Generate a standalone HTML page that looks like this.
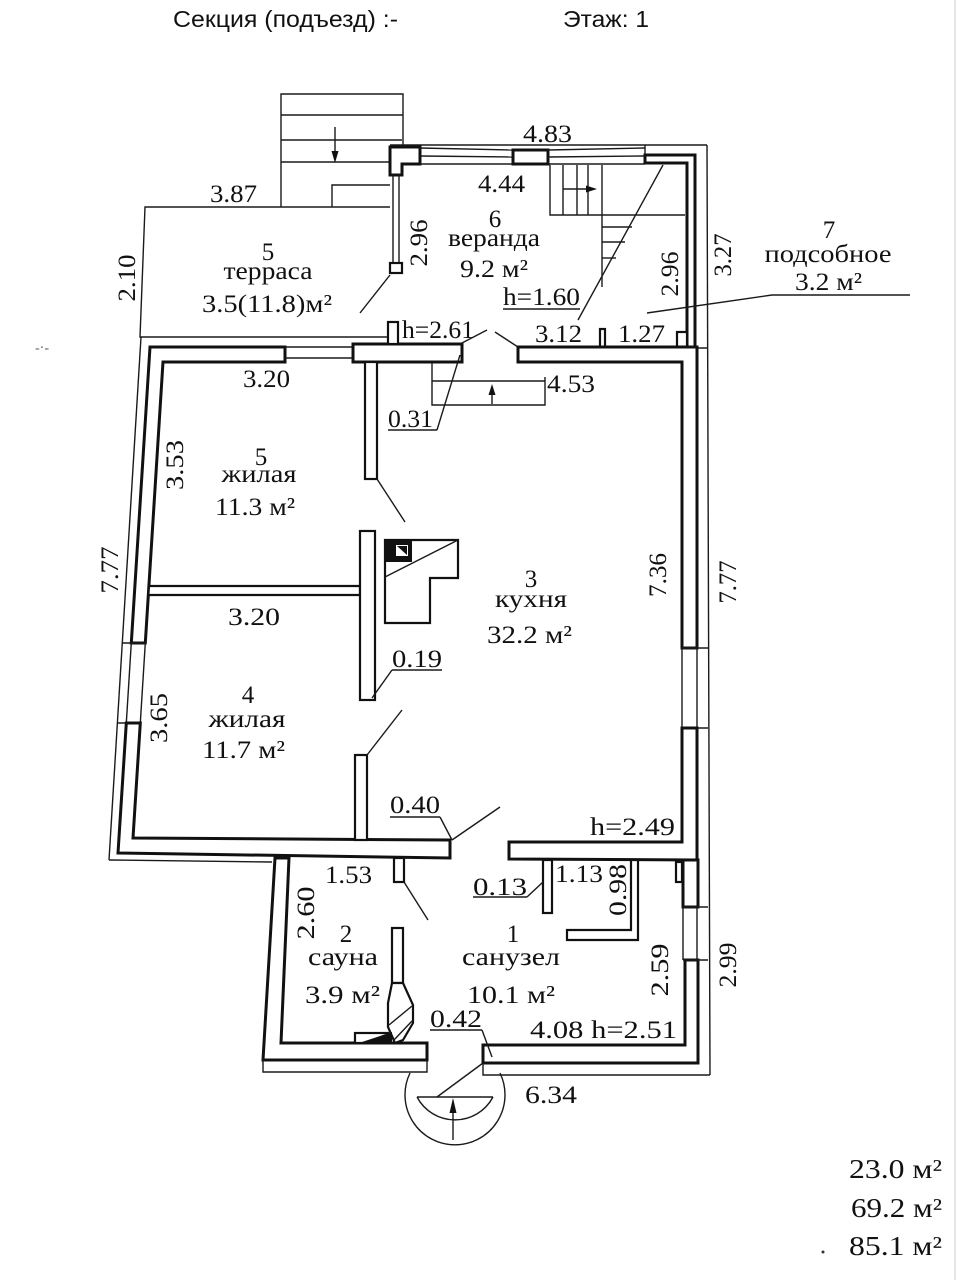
<!DOCTYPE html>
<html><head><meta charset="utf-8">
<style>
html,body{margin:0;padding:0;background:#fff;}
svg{display:block;}
.w{fill:#fff;stroke:#111;stroke-width:3;stroke-linejoin:miter}
.p{fill:#fff;stroke:#111;stroke-width:2.2}
.t{fill:none;stroke:#1a1a1a;stroke-width:1.4}
.k{fill:#111;stroke:none}
text{font-family:"Liberation Serif","DejaVu Serif",serif;font-size:25px;fill:#111}
.m{text-anchor:middle}
.h{font-family:"Liberation Sans","DejaVu Sans",sans-serif;font-size:23px}
.tot{font-size:27px}
</style></head>
<body>
<svg width="957" height="1280" viewBox="0 0 957 1280" xmlns="http://www.w3.org/2000/svg">
<rect x="0" y="0" width="957" height="1280" fill="#fff"/>
<line x1="955" y1="0" x2="955" y2="1280" stroke="#ddd" stroke-width="1.5"/>

<!-- header -->
<text class="h" x="173" y="27" textLength="225" lengthAdjust="spacingAndGlyphs">Секция (подъезд) :-</text>
<text class="h" x="563" y="27" textLength="86" lengthAdjust="spacingAndGlyphs">Этаж: 1</text>

<!-- outer stair top-left -->
<polyline class="t" points="281,207 281,94 403,94 403,145"/>
<line class="t" x1="281" y1="115" x2="403" y2="115"/>
<line class="t" x1="281" y1="140" x2="402" y2="140"/>
<line class="t" x1="281" y1="162" x2="390" y2="162"/>
<polyline class="t" points="390,185 332,185 332,207"/>
<line class="t" x1="335" y1="127" x2="335" y2="156"/>
<polygon class="k" points="331.5,151 338.5,151 335,163"/>

<!-- terrace -->
<polyline class="t" points="390,207 145,207 140,337 388,337"/>
<line class="t" x1="390" y1="275" x2="360" y2="313"/>

<!-- veranda left window + corner -->
<line class="t" x1="390" y1="145" x2="707" y2="145"/>
<polygon class="w" points="390,147 420,147 420,164 402,164 402,175 390,175"/>
<line class="t" x1="393" y1="175" x2="393" y2="263"/>
<line class="t" x1="399" y1="175" x2="399" y2="263"/>
<rect class="p" x="390" y="263" width="12" height="10"/>
<line class="t" x1="420" y1="148" x2="513" y2="150"/>
<line class="t" x1="420" y1="156" x2="513" y2="157"/>
<line class="t" x1="420" y1="164" x2="645" y2="164"/>
<rect class="w" x="513" y="150" width="35" height="14"/>
<line class="t" x1="548" y1="150" x2="645" y2="148"/>
<line class="t" x1="548" y1="157" x2="645" y2="156"/>
<line class="t" x1="645" y1="145" x2="645" y2="155"/>
<polygon class="w" points="645,155 695,155 695,347 687,347 687,163 645,163"/>
<line class="t" x1="707" y1="145" x2="710" y2="1075"/>

<!-- veranda stair -->
<polyline class="t" points="550,165 550,215 685,215"/>
<line class="t" x1="563" y1="165" x2="563" y2="215"/>
<line class="t" x1="577" y1="165" x2="577" y2="215"/>
<line class="t" x1="588" y1="165" x2="588" y2="215"/>
<line class="t" x1="602" y1="165" x2="602" y2="287"/>
<line class="t" x1="563" y1="189" x2="590" y2="189"/>
<polygon class="k" points="586,185.5 586,192.5 597,189"/>
<line class="t" x1="602" y1="227" x2="632" y2="227"/>
<line class="t" x1="602" y1="242" x2="625" y2="242"/>
<line class="t" x1="602" y1="258" x2="616" y2="258"/>
<line class="t" x1="663" y1="165" x2="578" y2="320"/>
<line class="t" x1="503" y1="309" x2="580" y2="309"/>
<rect class="p" x="600" y="329" width="5" height="18"/>
<rect class="p" x="677" y="332" width="10" height="15"/>
<line class="t" x1="518" y1="348" x2="707" y2="348"/>

<!-- subsidiary leader -->
<polyline class="t" points="647,313 772,295 910,295"/>

<!-- main block: top-left wall -->
<polygon class="w" points="285,347 150,347 131.3,643 145.3,643 163,362 285,362"/>
<line class="t" x1="285" y1="347" x2="353" y2="347"/>
<line class="t" x1="285" y1="358" x2="353" y2="358"/>
<rect class="w" x="353" y="344" width="109" height="18"/>
<rect class="p" x="388" y="322" width="10" height="22"/>
<!-- door leaves top -->
<line class="t" x1="462" y1="343" x2="487" y2="330"/>
<line class="t" x1="495" y1="332" x2="518" y2="347"/>
<!-- top-right wall + right wall upper -->
<polygon class="w" points="518,347 697,347 697,648 682,648 682,362 518,362"/>
<!-- right window -->
<line class="t" x1="682" y1="648" x2="682" y2="728"/>
<line class="t" x1="697" y1="648" x2="697" y2="728"/>
<line class="t" x1="682" y1="648" x2="708" y2="648"/>
<line class="t" x1="682" y1="728" x2="708" y2="728"/>
<!-- kitchen bottom right wall -->
<polygon class="w" points="509,842 682,842 682,728 697,728 697,860 509,859"/>

<!-- left window -->
<line class="t" x1="141" y1="337" x2="109" y2="860"/>
<line class="t" x1="131.3" y1="643" x2="126.3" y2="723"/>
<line class="t" x1="145.3" y1="643" x2="140.3" y2="723"/>
<line class="t" x1="122" y1="643" x2="145" y2="643"/>
<line class="t" x1="117" y1="723" x2="140" y2="723"/>
<!-- left lower wall + bottom left -->
<polygon class="w" points="126.3,723 140.3,723 133,838 450,840 450,858 118,853"/>
<line class="t" x1="109" y1="860" x2="272" y2="862"/>

<!-- partition rooms 5/4 -->
<polygon class="p" points="149,586 360,586 360,595 148.3,595"/>
<!-- vertical partitions -->
<rect class="p" x="365" y="362" width="12" height="117"/>
<rect class="p" x="360" y="531" width="15" height="169"/>
<rect class="p" x="355" y="755" width="12" height="85"/>
<line class="t" x1="377" y1="479" x2="405" y2="522"/>
<line class="t" x1="367" y1="755" x2="402" y2="710"/>
<line class="t" x1="452" y1="840" x2="500" y2="807"/>

<!-- kitchen stair -->
<polyline class="t" points="432,362 432,405 545,405 545,377"/>
<line class="t" x1="432" y1="381" x2="545" y2="381"/>
<line class="t" x1="492" y1="404" x2="492" y2="392"/>
<polygon class="k" points="488.5,395 495.5,395 492,384"/>

<!-- stove -->
<polygon class="p" points="385,540 458,540 458,578 430,578 430,623 385,623"/>
<line class="t" x1="458" y1="540" x2="385" y2="577"/>
<rect class="k" x="385" y="540" width="27" height="22"/>
<rect x="396" y="545" width="12" height="11" fill="#fff"/>
<polygon class="k" points="397,546 407,546 407,555"/>

<!-- leaders -->
<line class="t" x1="388" y1="430" x2="437" y2="430"/>
<line class="t" x1="437" y1="430" x2="460" y2="355"/>
<line class="t" x1="392" y1="670" x2="442" y2="670"/>
<line class="t" x1="392" y1="670" x2="372" y2="698"/>
<line class="t" x1="390" y1="817" x2="440" y2="817"/>
<line class="t" x1="440" y1="817" x2="452" y2="840"/>

<!-- sauna / bath -->
<polygon class="w" points="275,858 289,858 281,1043 427,1043 427,1060 263,1060"/>
<polyline class="t" points="263,1060 263,1072 427,1072 427,1060"/>
<polygon class="w" points="483,1045 685,1045 685,960 698,960 698,1063 483,1063"/>
<polyline class="t" points="483,1063 483,1075 710,1075"/>
<rect class="w" x="683" y="860" width="15" height="47"/>
<line class="t" x1="683" y1="907" x2="683" y2="960"/>
<line class="t" x1="697" y1="907" x2="697" y2="960"/>
<line class="t" x1="683" y1="907" x2="708" y2="907"/>
<line class="t" x1="683" y1="960" x2="708" y2="960"/>
<rect class="p" x="676" y="862" width="6" height="20"/>
<rect class="p" x="394" y="858" width="10" height="24"/>
<line class="t" x1="404" y1="882" x2="428" y2="920"/>
<rect class="p" x="392" y="928" width="11" height="55"/>
<polygon class="p" points="392,983 403,983 413,1005 413,1023 403,1040 395,1043 388,1027 388,1003"/>
<line class="t" x1="389" y1="1025" x2="412" y2="1006"/>
<line class="t" x1="393" y1="1041" x2="412" y2="1021"/>
<rect class="p" x="355" y="1033" width="33" height="10"/>
<polygon class="k" points="362,1042 392,1032 392,1042"/>
<rect class="p" x="543" y="860" width="9" height="53"/>
<polygon class="p" points="631,860 638,860 638,940 567,940 567,930 631,930"/>
<line class="t" x1="473" y1="897" x2="527" y2="897"/>
<line class="t" x1="527" y1="897" x2="543" y2="882"/>
<line class="t" x1="430" y1="1030" x2="482" y2="1030"/>
<line class="t" x1="482" y1="1030" x2="492" y2="1057"/>

<!-- porch -->
<path class="t" d="M410,1073 A50,50 0 1 0 500,1073"/>
<path class="t" d="M417,1097 A43,43 0 0 0 493,1097"/>
<line class="t" x1="417" y1="1097" x2="493" y2="1097"/>
<line class="t" x1="437" y1="1097" x2="483" y2="1063"/>
<line class="t" x1="453" y1="1140" x2="453" y2="1108"/>
<polygon class="k" points="449.5,1113 456.5,1113 453,1098"/>

<!-- small marks -->
<text x="35" y="352" style="font-size:14px;fill:#555">-·-</text>
<circle cx="823" cy="1252" r="1.5" fill="#333"/>

<!-- labels: terrace -->
<text x="210" y="202" textLength="47" lengthAdjust="spacingAndGlyphs">3.87</text>
<text transform="translate(135,278) rotate(-90)" class="m" textLength="47" lengthAdjust="spacingAndGlyphs">2.10</text>
<text x="268" y="260" class="m">5</text>
<text x="268" y="279" class="m" textLength="89" lengthAdjust="spacingAndGlyphs">терраса</text>
<text x="202" y="312" textLength="130" lengthAdjust="spacingAndGlyphs">3.5(11.8)м²</text>

<!-- veranda -->
<text x="523" y="142" textLength="49" lengthAdjust="spacingAndGlyphs">4.83</text>
<text x="478" y="192" textLength="47" lengthAdjust="spacingAndGlyphs">4.44</text>
<text transform="translate(427,243) rotate(-90)" class="m" textLength="47" lengthAdjust="spacingAndGlyphs">2.96</text>
<text x="495" y="227" class="m">6</text>
<text x="494" y="246" class="m" textLength="92" lengthAdjust="spacingAndGlyphs">веранда</text>
<text x="460" y="277" textLength="68" lengthAdjust="spacingAndGlyphs">9.2 м²</text>
<text x="503" y="305" textLength="77" lengthAdjust="spacingAndGlyphs">h=1.60</text>
<text transform="translate(678,274) rotate(-90)" class="m" textLength="45" lengthAdjust="spacingAndGlyphs">2.96</text>
<text transform="translate(731,255) rotate(-90)" class="m" textLength="43" lengthAdjust="spacingAndGlyphs">3.27</text>
<text x="402" y="338" textLength="72" lengthAdjust="spacingAndGlyphs">h=2.61</text>
<text x="535" y="342" textLength="47" lengthAdjust="spacingAndGlyphs">3.12</text>
<text x="618" y="342" textLength="47" lengthAdjust="spacingAndGlyphs">1.27</text>
<text x="829" y="238" class="m">7</text>
<text x="828" y="262" class="m" textLength="127" lengthAdjust="spacingAndGlyphs">подсобное</text>
<text x="795" y="290" textLength="67" lengthAdjust="spacingAndGlyphs">3.2 м²</text>

<!-- rooms 5 & 4 -->
<text x="243" y="387" textLength="47" lengthAdjust="spacingAndGlyphs">3.20</text>
<text x="388" y="427" textLength="45" lengthAdjust="spacingAndGlyphs">0.31</text>
<text x="547" y="392" textLength="48" lengthAdjust="spacingAndGlyphs">4.53</text>
<text transform="translate(183,465) rotate(-90)" class="m" textLength="50" lengthAdjust="spacingAndGlyphs">3.53</text>
<text x="261" y="465" class="m">5</text>
<text x="259" y="482" class="m" textLength="75" lengthAdjust="spacingAndGlyphs">жилая</text>
<text x="215" y="515" textLength="80" lengthAdjust="spacingAndGlyphs">11.3 м²</text>
<text transform="translate(118,570) rotate(-90)" class="m" textLength="47" lengthAdjust="spacingAndGlyphs">7.77</text>
<text x="228" y="625" textLength="52" lengthAdjust="spacingAndGlyphs">3.20</text>
<text transform="translate(167,718) rotate(-90)" class="m" textLength="50" lengthAdjust="spacingAndGlyphs">3.65</text>
<text x="248" y="703" class="m">4</text>
<text x="247" y="727" class="m" textLength="77" lengthAdjust="spacingAndGlyphs">жилая</text>
<text x="202" y="758" textLength="83" lengthAdjust="spacingAndGlyphs">11.7 м²</text>

<!-- kitchen -->
<text x="531" y="587" class="m">3</text>
<text x="531" y="607" class="m" textLength="72" lengthAdjust="spacingAndGlyphs">кухня</text>
<text x="487" y="643" textLength="85" lengthAdjust="spacingAndGlyphs">32.2 м²</text>
<text transform="translate(666,575) rotate(-90)" class="m" textLength="44" lengthAdjust="spacingAndGlyphs">7.36</text>
<text transform="translate(736,582) rotate(-90)" class="m" textLength="43" lengthAdjust="spacingAndGlyphs">7.77</text>
<text x="392" y="667" textLength="50" lengthAdjust="spacingAndGlyphs">0.19</text>
<text x="390" y="813" textLength="50" lengthAdjust="spacingAndGlyphs">0.40</text>
<text x="590" y="835" textLength="85" lengthAdjust="spacingAndGlyphs">h=2.49</text>

<!-- bath / sauna -->
<text x="325" y="883" textLength="47" lengthAdjust="spacingAndGlyphs">1.53</text>
<text x="473" y="895" textLength="54" lengthAdjust="spacingAndGlyphs">0.13</text>
<text x="555" y="882" textLength="48" lengthAdjust="spacingAndGlyphs">1.13</text>
<text transform="translate(626,890) rotate(-90)" class="m" textLength="52" lengthAdjust="spacingAndGlyphs">0.98</text>
<text transform="translate(314,913) rotate(-90)" class="m" textLength="53" lengthAdjust="spacingAndGlyphs">2.60</text>
<text x="346" y="942" class="m">2</text>
<text x="343" y="965" class="m" textLength="70" lengthAdjust="spacingAndGlyphs">сауна</text>
<text x="305" y="1003" textLength="75" lengthAdjust="spacingAndGlyphs">3.9 м²</text>
<text x="513" y="942" class="m">1</text>
<text x="511" y="965" class="m" textLength="98" lengthAdjust="spacingAndGlyphs">санузел</text>
<text x="467" y="1003" textLength="88" lengthAdjust="spacingAndGlyphs">10.1 м²</text>
<text transform="translate(668,970) rotate(-90)" class="m" textLength="53" lengthAdjust="spacingAndGlyphs">2.59</text>
<text transform="translate(736,965) rotate(-90)" class="m" textLength="45" lengthAdjust="spacingAndGlyphs">2.99</text>
<text x="430" y="1027" textLength="52" lengthAdjust="spacingAndGlyphs">0.42</text>
<text x="530" y="1038" textLength="147" lengthAdjust="spacingAndGlyphs">4.08 h=2.51</text>
<text x="525" y="1103" textLength="52" lengthAdjust="spacingAndGlyphs">6.34</text>

<!-- totals -->
<text class="tot" x="849" y="1178" textLength="93" lengthAdjust="spacingAndGlyphs">23.0 м²</text>
<text class="tot" x="851" y="1217" textLength="91" lengthAdjust="spacingAndGlyphs">69.2 м²</text>
<text class="tot" x="849" y="1255" textLength="93" lengthAdjust="spacingAndGlyphs">85.1 м²</text>
</svg>
</body></html>
